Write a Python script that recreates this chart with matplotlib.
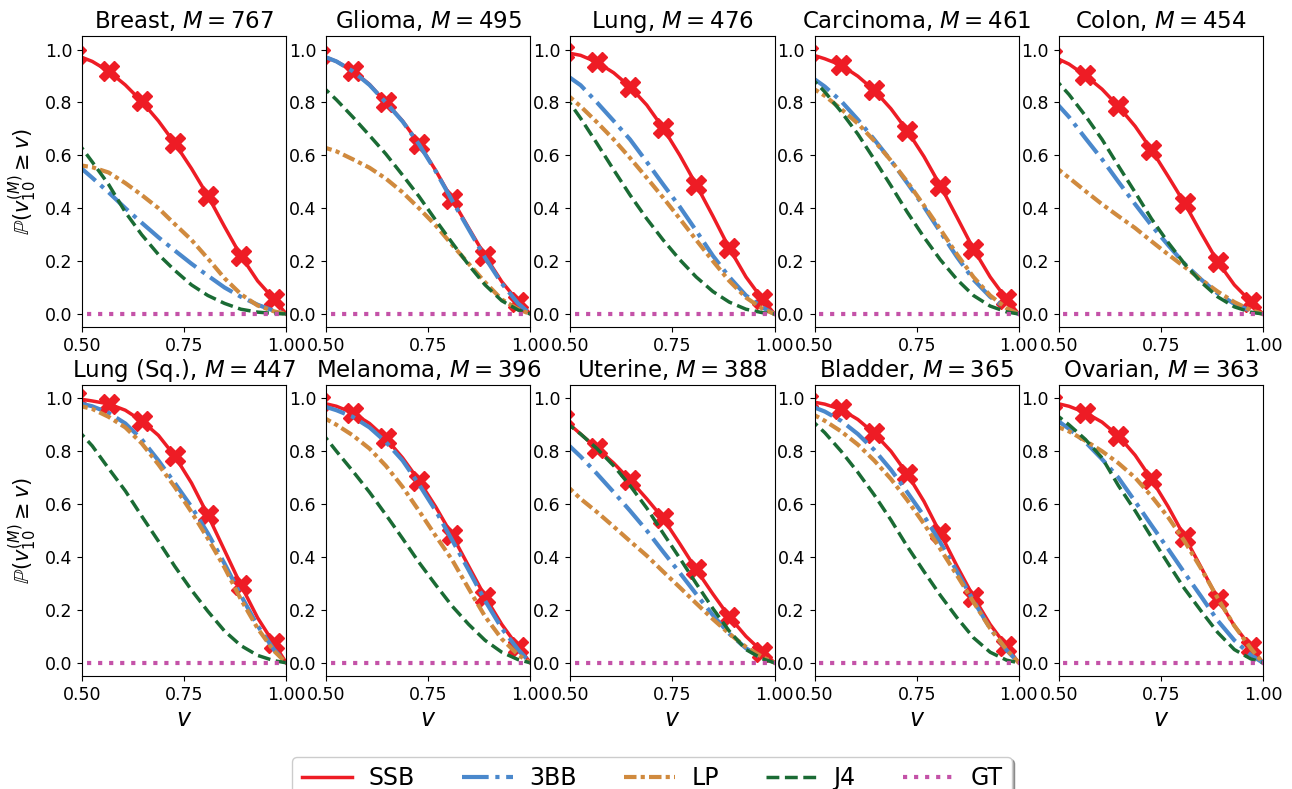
import matplotlib
matplotlib.use('Agg')
import matplotlib.pyplot as plt

v = [0.484, 0.525, 0.565, 0.606, 0.646, 0.687, 0.727, 0.768, 0.808, 0.849, 0.889, 0.930, 0.970, 1.0]

datasets = ['Breast', 'Glioma', 'Lung', 'Carcinoma', 'Colon',
            'Lung (Sq.)', 'Melanoma', 'Uterine', 'Bladder', 'Ovarian']
M_values = [767, 495, 476, 461, 454, 447, 396, 388, 365, 363]

ssb = [
    [0.98, 0.955, 0.918, 0.866, 0.804, 0.730, 0.646, 0.550, 0.447, 0.330, 0.220, 0.125, 0.056, 0.0],
    [0.98, 0.955, 0.920, 0.868, 0.800, 0.730, 0.644, 0.543, 0.434, 0.325, 0.220, 0.122, 0.047, 0.0],
    [0.99, 0.978, 0.952, 0.912, 0.859, 0.790, 0.703, 0.600, 0.489, 0.370, 0.249, 0.140, 0.056, 0.0],
    [0.985, 0.965, 0.941, 0.899, 0.846, 0.776, 0.693, 0.595, 0.485, 0.365, 0.246, 0.140, 0.056, 0.0],
    [0.975, 0.945, 0.902, 0.850, 0.785, 0.710, 0.621, 0.520, 0.419, 0.305, 0.198, 0.110, 0.047, 0.0],
    [1.0, 0.99, 0.979, 0.955, 0.915, 0.860, 0.782, 0.680, 0.559, 0.425, 0.294, 0.170, 0.073, 0.0],
    [0.985, 0.97, 0.945, 0.905, 0.849, 0.775, 0.689, 0.590, 0.483, 0.365, 0.250, 0.145, 0.060, 0.0],
    [0.92, 0.865, 0.811, 0.755, 0.691, 0.620, 0.546, 0.450, 0.353, 0.260, 0.174, 0.100, 0.042, 0.0],
    [0.99, 0.978, 0.958, 0.920, 0.868, 0.800, 0.714, 0.610, 0.489, 0.365, 0.250, 0.145, 0.062, 0.0],
    [0.985, 0.97, 0.946, 0.910, 0.858, 0.785, 0.694, 0.590, 0.477, 0.360, 0.243, 0.140, 0.061, 0.0],
]
bb3 = [
    [0.57, 0.515, 0.46, 0.40, 0.345, 0.29, 0.24, 0.19, 0.145, 0.10, 0.065, 0.035, 0.012, 0.0],
    [0.98, 0.955, 0.918, 0.866, 0.80, 0.728, 0.642, 0.54, 0.43, 0.32, 0.213, 0.115, 0.04, 0.0],
    [0.91, 0.865, 0.80, 0.73, 0.66, 0.575, 0.49, 0.405, 0.315, 0.22, 0.14, 0.07, 0.025, 0.0],
    [0.905, 0.86, 0.805, 0.735, 0.66, 0.58, 0.495, 0.405, 0.31, 0.215, 0.13, 0.065, 0.02, 0.0],
    [0.815, 0.745, 0.665, 0.585, 0.50, 0.415, 0.335, 0.26, 0.19, 0.13, 0.078, 0.038, 0.012, 0.0],
    [0.985, 0.97, 0.945, 0.905, 0.845, 0.765, 0.68, 0.59, 0.49, 0.375, 0.255, 0.14, 0.05, 0.0],
    [0.975, 0.955, 0.93, 0.89, 0.835, 0.765, 0.675, 0.575, 0.465, 0.35, 0.235, 0.13, 0.05, 0.0],
    [0.84, 0.78, 0.715, 0.645, 0.575, 0.50, 0.42, 0.34, 0.26, 0.18, 0.11, 0.055, 0.018, 0.0],
    [0.975, 0.95, 0.915, 0.865, 0.805, 0.73, 0.645, 0.555, 0.455, 0.345, 0.235, 0.13, 0.048, 0.0],
    [0.93, 0.885, 0.835, 0.77, 0.70, 0.61, 0.52, 0.43, 0.34, 0.25, 0.16, 0.085, 0.03, 0.0],
]
lp = [
    [0.565, 0.555, 0.535, 0.495, 0.45, 0.40, 0.34, 0.28, 0.21, 0.135, 0.075, 0.032, 0.01, 0.0],
    [0.635, 0.615, 0.585, 0.553, 0.512, 0.46, 0.40, 0.335, 0.262, 0.19, 0.12, 0.055, 0.018, 0.0],
    [0.84, 0.785, 0.725, 0.66, 0.59, 0.515, 0.44, 0.36, 0.28, 0.20, 0.125, 0.062, 0.02, 0.0],
    [0.865, 0.825, 0.775, 0.72, 0.655, 0.58, 0.50, 0.41, 0.32, 0.225, 0.14, 0.07, 0.022, 0.0],
    [0.565, 0.515, 0.465, 0.415, 0.37, 0.325, 0.275, 0.225, 0.178, 0.13, 0.085, 0.045, 0.015, 0.0],
    [0.975, 0.96, 0.93, 0.89, 0.83, 0.75, 0.665, 0.57, 0.47, 0.36, 0.24, 0.13, 0.045, 0.0],
    [0.935, 0.90, 0.86, 0.81, 0.745, 0.665, 0.575, 0.48, 0.39, 0.28, 0.175, 0.09, 0.03, 0.0],
    [0.68, 0.62, 0.57, 0.515, 0.46, 0.405, 0.345, 0.285, 0.225, 0.165, 0.11, 0.06, 0.022, 0.0],
    [0.95, 0.915, 0.875, 0.825, 0.765, 0.695, 0.615, 0.525, 0.43, 0.33, 0.23, 0.13, 0.05, 0.0],
    [0.90, 0.875, 0.84, 0.80, 0.755, 0.70, 0.63, 0.55, 0.46, 0.355, 0.245, 0.14, 0.055, 0.0],
]
j4 = [
    [0.66, 0.575, 0.49, 0.385, 0.30, 0.225, 0.165, 0.11, 0.07, 0.04, 0.018, 0.007, 0.002, 0.0],
    [0.87, 0.81, 0.745, 0.675, 0.605, 0.525, 0.445, 0.355, 0.27, 0.185, 0.11, 0.05, 0.015, 0.0],
    [0.83, 0.74, 0.645, 0.545, 0.45, 0.36, 0.28, 0.205, 0.14, 0.085, 0.045, 0.018, 0.005, 0.0],
    [0.905, 0.84, 0.765, 0.68, 0.585, 0.485, 0.385, 0.29, 0.205, 0.13, 0.07, 0.03, 0.008, 0.0],
    [0.90, 0.83, 0.75, 0.66, 0.56, 0.46, 0.36, 0.27, 0.19, 0.12, 0.065, 0.027, 0.007, 0.0],
    [0.89, 0.82, 0.735, 0.65, 0.555, 0.46, 0.365, 0.275, 0.195, 0.12, 0.065, 0.028, 0.008, 0.0],
    [0.88, 0.80, 0.725, 0.645, 0.56, 0.47, 0.38, 0.295, 0.215, 0.145, 0.085, 0.04, 0.012, 0.0],
    [0.915, 0.865, 0.81, 0.745, 0.67, 0.585, 0.49, 0.395, 0.30, 0.205, 0.12, 0.05, 0.015, 0.0],
    [0.93, 0.87, 0.80, 0.72, 0.635, 0.54, 0.44, 0.345, 0.255, 0.17, 0.095, 0.04, 0.01, 0.0],
    [0.95, 0.90, 0.845, 0.775, 0.67, 0.575, 0.475, 0.375, 0.28, 0.195, 0.115, 0.05, 0.015, 0.0],
]
gt = [0.0] * len(v)

fig, axes = plt.subplots(2, 5, figsize=(12.92, 7.89), dpi=100)
fig.subplots_adjust(left=0.0635, right=0.9775, top=0.954, bottom=0.1432,
                    wspace=0.196, hspace=0.199)

for i, ax in enumerate(axes.flat):
    ax.plot(v, ssb[i], color='#ee1c25', lw=2.5, marker='X', markersize=15,
            markevery=2, label='SSB')
    ax.plot(v, bb3[i], color='#4a88cc', lw=3, ls='-.', label='3BB')
    ax.plot(v, lp[i], color='#d08a3e', lw=3, ls=(0, (3, 1, 1, 1)), label='LP')
    ax.plot(v, j4[i], color='#1a6b34', lw=2.5, ls='--', label='J4')
    ax.plot(v, gt, color='#c452a8', lw=3, ls=':', label='GT')
    ax.set_xlim(0.5, 1.0)
    ax.set_ylim(-0.05, 1.05)
    ax.set_xticks([0.5, 0.75, 1.0])
    ax.set_xticklabels(['0.50', '0.75', '1.00'])
    ax.set_yticks([0.0, 0.2, 0.4, 0.6, 0.8, 1.0])
    ax.tick_params(labelsize=12.5)
    ax.set_title(datasets[i] + ', $M = %d$' % M_values[i], fontsize=16.5)
    if i % 5 == 0:
        ax.set_ylabel(r'$\mathbb{P}(v_{10}^{(M)} \geq v)$', fontsize=15)
    if i >= 5:
        ax.set_xlabel('$v$', fontsize=17, labelpad=2)

handles, labels = axes[0, 0].get_legend_handles_labels()
fig.legend(handles, labels, loc='upper center', bbox_to_anchor=(0.5046, 0.0558), ncol=5,
           fontsize=17, handlelength=2.15, columnspacing=2.0, handletextpad=0.7,
           shadow=True, markerscale=0)

fig.savefig('out.png', dpi=100)
